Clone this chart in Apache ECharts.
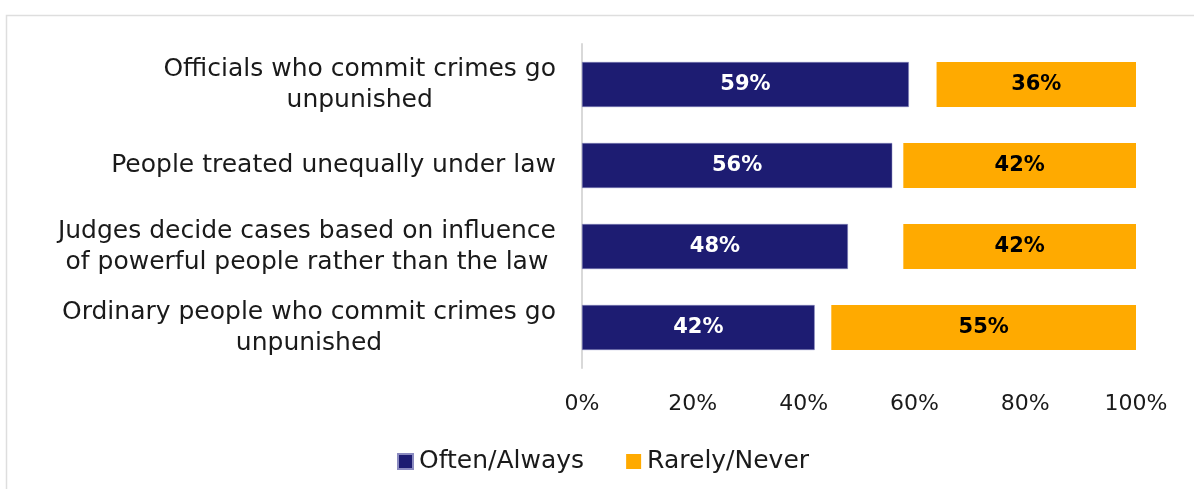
<!DOCTYPE html>
<html>
<head>
<meta charset="utf-8">
<script src="https://cdn.jsdelivr.net/npm/echarts@6/dist/echarts.min.js"></script>
<style>
  html, body { margin: 0; padding: 0; background: #ffffff; }
  #chart { width: 1194px; height: 489px; }
</style>
</head>
<body>
<div id="chart"></div>
<script>
// Survey items, top to bottom
const categories = [
  'Officials who commit crimes go\nunpunished',
  'People treated unequally under law',
  'Judges decide cases based on influence\nof powerful people rather than the law',
  'Ordinary people who commit crimes go\nunpunished'
];
const oftenAlways = [59, 56, 48, 42];
const rarelyNever = [36, 42, 42, 55];
// Remaining share (no answer) left as an empty gap between the two bars
const remainder = oftenAlways.map((v, i) => 100 - v - rarelyNever[i]);
const xTicks = [0, 20, 40, 60, 80, 100];

const FONT = 'DejaVu Sans';
const chart = echarts.init(document.getElementById('chart'), null, { renderer: 'canvas' });

// Category labels: every line centred within its block, block right-aligned at the axis
function centredLines(text) {
  return text.split('\n').map(l => '{c|' + l + '}').join('\n');
}

chart.setOption({
  animation: false,
  backgroundColor: '#ffffff',
  textStyle: { fontFamily: FONT },
  graphic: [{
    type: 'rect',
    shape: { x: 6.5, y: 15.5, width: 1200, height: 500 },
    style: { fill: 'none', stroke: '#dedede', lineWidth: 1.5 },
    silent: true, z: -1
  }],
  legend: {
    data: ['Often/Always', 'Rarely/Never'],
    left: 392, top: 444,
    icon: 'rect', itemWidth: 15, itemHeight: 15, itemGap: 42,
    textStyle: { fontFamily: FONT, fontSize: 25, color: '#1a1a1a', padding: [0, 0, 0, 1] }
  },
  grid: { left: 582, top: 44, width: 554, height: 324, containLabel: false },
  xAxis: {
    type: 'value', min: 0, max: 100, interval: 20,
    axisLine: { show: false }, axisTick: { show: false },
    splitLine: { show: false },
    axisLabel: {
      margin: 25, fontSize: 22, color: '#1a1a1a', fontFamily: FONT,
      formatter: v => xTicks.includes(v) ? v + '%' : ''
    }
  },
  yAxis: {
    type: 'category', inverse: true, data: categories,
    axisLine: { show: true, lineStyle: { color: '#d9d9d9', width: 2 } },
    axisTick: { show: false },
    axisLabel: {
      margin: 26, color: '#1a1a1a', fontFamily: FONT, fontSize: 25,
      formatter: centredLines,
      rich: { c: { align: 'center', fontSize: 25, lineHeight: 31, fontFamily: FONT, color: '#1a1a1a' } }
    }
  },
  series: [
    {
      name: 'Often/Always', type: 'bar', stack: 'total', data: oftenAlways,
      barWidth: 45,
      itemStyle: { color: '#1d1c72', borderColor: '#8b8bc0', borderWidth: 0.5 },
      label: {
        show: true, position: 'inside', formatter: '{c}%',
        color: '#ffffff', fontWeight: 'bold', fontSize: 21, fontFamily: FONT
      }
    },
    {
      name: 'gap', type: 'bar', stack: 'total', data: remainder,
      itemStyle: { color: 'rgba(0,0,0,0)' }, silent: true, label: { show: false }
    },
    {
      name: 'Rarely/Never', type: 'bar', stack: 'total', data: rarelyNever,
      itemStyle: { color: '#ffaa00' },
      label: {
        show: true, position: 'inside', formatter: '{c}%',
        color: '#000000', fontWeight: 'bold', fontSize: 21, fontFamily: FONT
      }
    }
  ]
});
</script>
</body>
</html>
